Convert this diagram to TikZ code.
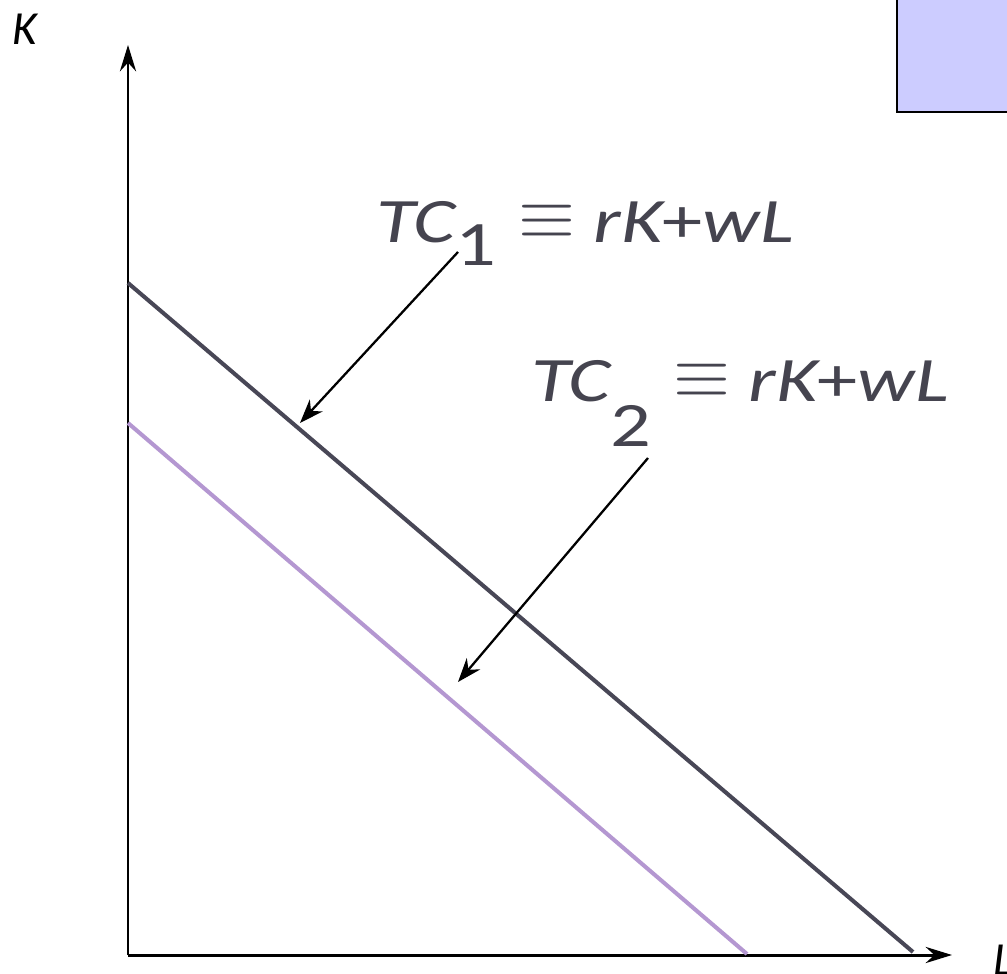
\documentclass[tikz,border=0pt]{standalone}
\usepackage{fontspec}
\setmainfont{Carlito}
\usetikzlibrary{arrows.meta}
\definecolor{txt}{HTML}{45444F}
\definecolor{tcone}{HTML}{484756}
\definecolor{tctwo}{HTML}{B497D1}
\definecolor{boxfill}{HTML}{CCCCFF}
\newcommand{\myeq}{\raisebox{0.04cm}{\scalebox{0.95}[1.18]{$\equiv$}}}
\begin{document}
\begin{tikzpicture}[x=0.01cm,y=-0.01cm,
  axis/.style={line width=0.85pt,-{Stealth[length=7.5pt,width=4.6pt,inset=2.5pt]}},
  leader/.style={line width=0.65pt,-{Stealth[length=6.8pt,width=5pt,inset=2.2pt]}},
  budget/.style={line width=1.15pt},
  eqlabel/.style={inner sep=0pt,text=txt,font=\fontsize{18}{21}\selectfont,xscale=1.27},
  axlabel/.style={inner sep=0pt,font=\fontsize{13.5}{16}\selectfont\itshape}]
\useasboundingbox (0,0) rectangle (1007,974);
\clip (0,0) rectangle (1007,974);
% box top right
\draw[line width=0.6pt,fill=boxfill] (897,112) rectangle (1040,-20);
% axes
\coordinate (O) at (128,955);
\coordinate (Ytip) at (128,45);
\coordinate (Xtip) at (952,955);
\draw[axis] (O) -- (Ytip);
\draw[axis] (O) -- (Xtip);
\node[axlabel,anchor=base west] (Klab) at (12,45) {K};
\node[axlabel,anchor=base west] (Llab) at (993,975) {L};
% budget lines
\coordinate (A1) at (128,283);
\coordinate (B1) at (913,952);
\coordinate (A2) at (128,423);
\coordinate (B2) at (747,954);
\draw[budget,tcone] (A1) -- (B1);
\draw[budget,tctwo] (A2) -- (B2);
% labels
\node[eqlabel,anchor=base east] (TC1) at (795,243)
  {\itshape TC\raisebox{-0.22cm}{\upshape 1}\hspace{0.8pt} \myeq{} \itshape rK\upshape+\itshape wL};
\node[eqlabel,anchor=base east] (TC2) at (950,402)
  {\itshape TC\raisebox{-0.44cm}{\upshape 2}\hspace{0.8pt} \myeq{} \itshape rK\upshape+\itshape wL};
% leaders
\coordinate (S1) at (458,252);
\coordinate (E1) at (300,423);
\coordinate (S2) at (648,458);
\coordinate (E2) at (458,682);
\draw[leader] (S1) -- (E1);
\draw[leader] (S2) -- (E2);
\end{tikzpicture}
\end{document}
